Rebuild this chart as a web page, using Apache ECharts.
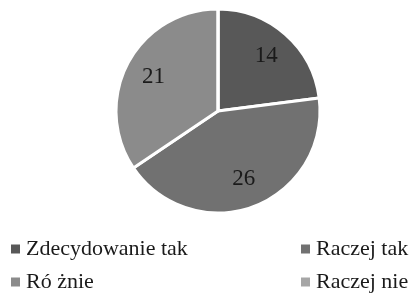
<!DOCTYPE html>
<html>
<head>
<meta charset="utf-8">
<script src="https://cdn.jsdelivr.net/npm/echarts@6/dist/echarts.min.js"></script>
<style>
  html, body { margin: 0; padding: 0; background: #fff; }
  #chart { width: 414px; height: 295px; }
</style>
</head>
<body>
<div id="chart"></div>
<script>
// dane z wykresu
var categories = ['Zdecydowanie tak', 'Raczej tak', 'Ró żnie', 'Raczej nie'];
var values = [14, 26, 21, 0];
var colors = ['#585858', '#717171', '#8b8b8b', '#a6a6a6'];

var font = 'Liberation Serif';

var pieData = categories.map(function (name, i) {
    return {name: name, value: values[i], itemStyle: {color: colors[i]}};
});

function legendAt(items, left) {
    return {
        data: items,
        orient: 'vertical',
        left: left, top: 233, height: 120,
        itemWidth: 11, itemHeight: 11, itemGap: 11,
        icon: 'rect',
        textStyle: {fontFamily: font, fontSize: 22, color: '#1a1a1a'}
    };
}

var chart = echarts.init(document.getElementById('chart'));

chart.setOption({
    animation: false,
    legend: [
        legendAt([categories[0], categories[2]], 4),
        legendAt([categories[1], categories[3]], 294)
    ],
    series: [
        {
            type: 'pie',
            center: [218, 111],
            radius: [0, 102],
            startAngle: 90,
            clockwise: true,
            itemStyle: {borderColor: '#fff', borderWidth: 3},
            label: {show: false},
            labelLine: {show: false},
            emphasis: {disabled: true},
            data: pieData
        },
        {
            // niewidoczny pierścień - tylko do położenia etykiet
            type: 'pie',
            center: [218, 111],
            radius: [38, 102],
            startAngle: 90,
            clockwise: true,
            silent: true,
            legendHoverLink: false,
            itemStyle: {color: 'rgba(0,0,0,0)', borderWidth: 0},
            label: {
                show: true,
                position: 'inside',
                fontFamily: font,
                fontSize: 23,
                color: '#1a1a1a',
                formatter: function (p) { return p.value ? String(p.value) : ''; }
            },
            labelLine: {show: false},
            emphasis: {disabled: true},
            data: categories.map(function (name, i) {
                return {name: name + ' ', value: values[i]};
            })
        }
    ]
});
</script>
</body>
</html>
